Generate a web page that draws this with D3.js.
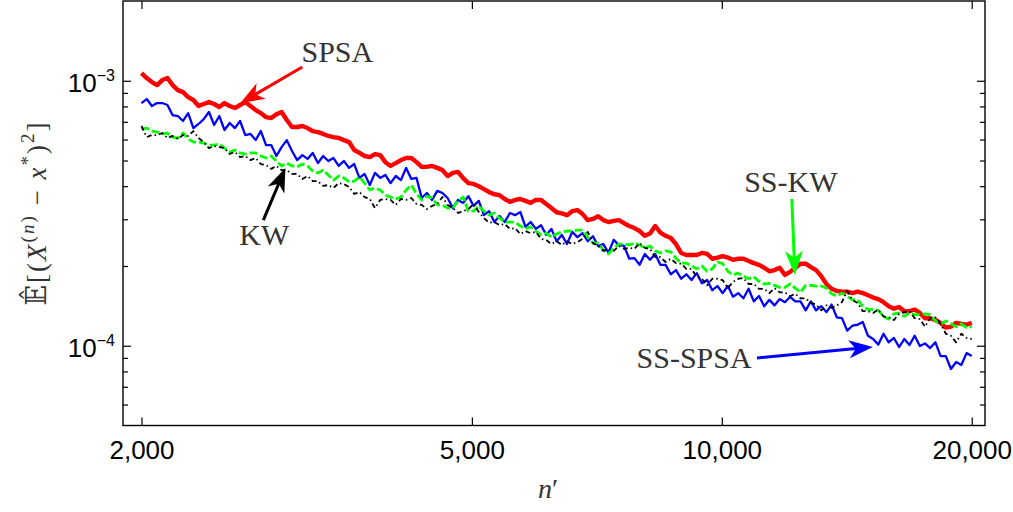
<!DOCTYPE html>
<html>
<head>
<meta charset="utf-8">
<script src="https://cdn.jsdelivr.net/npm/d3@7"></script>
<style>
  body { margin: 0; background: #fff; }
  svg { display: block; }
</style>
</head>
<body>
<svg id="chart" width="1013" height="512"></svg>
<script>
// Mean squared error estimates vs. iteration count n', log-log.
// Series values are in units of 1e-4.
const unit = 1e-4;

// n' sampling grid: 161 log-spaced iterations between 2,000 and 20,000
const nStart = 2000, nEnd = 20000, sampleCount = 161;
const nPrime = d3.range(sampleCount).map(i => nStart * Math.pow(nEnd / nStart, i / (sampleCount - 1)));

const xTicks = [2000, 5000, 10000, 20000];
const yMajorTicks = [1e-4, 1e-3];
const yMinorTicks = [6e-5, 7e-5, 8e-5, 9e-5, 2e-4, 3e-4, 4e-4, 5e-4, 6e-4, 7e-4, 8e-4, 9e-4];

const spsa = [
  10.69,10.24,9.89,9.63,10.06,10.24,9.63,9.22,9.06,8.68,
  8.46,8.03,8.17,8.31,8.17,7.96,8.24,8.03,7.89,8.10,
  8.31,8.03,7.75,7.55,7.29,7.23,7.48,7.62,7.11,6.69,
  6.69,6.75,6.63,6.46,6.40,6.30,6.19,6.13,6.08,5.97,
  5.87,5.48,5.34,5.20,5.15,5.29,5.24,4.93,4.77,4.89,
  5.02,5.11,5.11,4.93,4.73,4.73,4.77,4.69,4.60,4.37,
  4.49,4.53,4.29,4.11,4.08,4.00,3.90,3.80,3.73,3.70,
  3.58,3.49,3.55,3.58,3.52,3.46,3.55,3.55,3.43,3.31,
  3.19,3.16,3.11,3.22,3.25,3.14,2.98,3.01,3.08,2.98,
  2.93,2.96,2.98,2.90,2.83,2.78,2.71,2.60,2.65,2.83,
  2.67,2.60,2.55,2.42,2.24,2.20,2.20,2.20,2.24,2.22,
  2.13,2.15,2.18,2.15,2.11,2.13,2.13,2.09,2.05,2.02,
  1.97,1.91,1.93,1.97,1.85,1.90,1.97,2.04,2.04,1.98,
  1.93,1.83,1.71,1.64,1.61,1.60,1.60,1.58,1.60,1.58,
  1.55,1.52,1.50,1.46,1.41,1.38,1.40,1.35,1.35,1.37,
  1.33,1.27,1.27,1.25,1.22,1.17,1.18,1.22,1.21,1.20,
  1.22
];

const ssSpsa = [
  8.24,8.53,8.03,8.24,8.24,8.10,7.42,7.36,7.05,7.55,
  6.63,6.87,7.17,7.62,6.81,7.36,6.52,6.93,6.63,7.05,
  6.24,6.30,5.97,6.46,5.72,5.72,5.20,5.62,5.97,5.43,
  5.02,5.24,5.07,5.34,4.89,5.20,4.98,5.11,4.77,4.98,
  4.69,4.85,4.30,4.45,4.04,4.49,4.30,4.41,4.11,4.37,
  4.22,4.69,4.26,4.30,3.61,3.77,3.55,3.84,3.77,3.61,
  3.31,3.55,3.46,3.67,3.37,3.52,3.11,3.22,2.93,3.09,
  2.93,3.17,3.11,3.20,2.81,2.93,2.76,2.85,2.62,2.76,
  2.48,2.62,2.42,2.69,2.57,2.66,2.48,2.59,2.38,2.42,
  2.24,2.51,2.40,2.38,2.13,2.14,2.02,2.22,2.11,2.22,
  2.02,2.02,1.86,1.93,1.79,1.86,1.77,1.88,1.72,1.77,
  1.62,1.68,1.58,1.68,1.53,1.58,1.51,1.64,1.47,1.54,
  1.41,1.49,1.42,1.50,1.46,1.53,1.47,1.47,1.36,1.47,
  1.36,1.41,1.34,1.43,1.28,1.27,1.14,1.19,1.20,1.23,
  1.09,1.06,1.01,1.11,1.03,1.07,0.989,1.06,1.006,1.09,
  0.997,1.02,0.980,1.03,0.914,0.914,0.817,0.868,0.846,0.938,
  0.914
];

const ssKw = [
  6.58,6.63,6.46,6.41,6.30,6.35,6.13,6.08,6.35,6.03,
  5.87,5.87,5.82,5.72,5.72,5.77,5.57,5.39,5.48,5.34,
  5.29,5.34,5.34,5.20,5.11,5.20,4.98,4.77,4.89,4.77,
  4.73,4.85,4.77,4.56,4.49,4.60,4.41,4.22,4.37,4.30,
  4.15,4.18,4.33,4.11,3.87,3.94,3.87,3.70,3.64,3.58,
  3.64,3.87,4.04,3.74,3.55,3.67,3.61,3.40,3.40,3.31,
  3.31,3.52,3.64,3.22,3.22,3.37,3.22,3.11,3.17,3.03,
  2.93,2.93,2.93,2.83,2.76,2.81,2.71,2.62,2.66,2.57,
  2.64,2.69,2.71,2.71,2.73,2.73,2.57,2.44,2.44,2.30,
  2.22,2.34,2.42,2.42,2.40,2.44,2.40,2.34,2.38,2.28,
  2.24,2.28,2.26,2.14,2.05,2.05,2.00,1.95,2.00,1.91,
  1.95,2.07,2.04,1.91,1.85,1.88,1.83,1.79,1.82,1.75,
  1.71,1.72,1.69,1.66,1.66,1.71,1.65,1.59,1.69,1.69,
  1.68,1.68,1.65,1.57,1.54,1.58,1.54,1.49,1.49,1.41,
  1.37,1.37,1.36,1.29,1.26,1.32,1.33,1.29,1.33,1.31,
  1.31,1.32,1.31,1.24,1.21,1.24,1.21,1.18,1.21,1.17,
  1.18
];

const kw = [
  6.75,6.13,6.24,6.24,6.35,6.08,6.19,6.03,6.24,6.19,
  6.46,6.08,5.87,5.57,5.67,5.62,5.57,5.29,5.39,5.15,
  5.20,5.02,5.11,4.85,4.81,4.65,4.77,4.60,4.60,4.45,
  4.45,4.26,4.37,4.18,4.18,4.01,4.04,3.94,4.11,4.08,
  3.97,3.74,3.80,3.64,3.58,3.31,3.55,3.58,3.55,3.40,
  3.58,3.55,3.61,3.43,3.40,3.28,3.37,3.43,3.64,3.40,
  3.31,3.17,3.22,3.28,3.43,3.20,3.03,2.91,2.93,2.85,
  2.88,2.76,2.78,2.64,2.71,2.66,2.69,2.53,2.51,2.42,
  2.48,2.40,2.48,2.42,2.46,2.53,2.69,2.44,2.38,2.28,
  2.32,2.28,2.38,2.32,2.34,2.32,2.44,2.34,2.32,2.16,
  2.16,2.07,2.13,2.05,2.04,1.95,1.95,1.82,1.79,1.69,
  1.79,1.79,1.77,1.65,1.74,1.79,1.80,1.71,1.71,1.64,
  1.64,1.58,1.65,1.59,1.59,1.54,1.57,1.51,1.51,1.45,
  1.43,1.36,1.42,1.39,1.42,1.46,1.61,1.49,1.45,1.35,
  1.35,1.33,1.37,1.29,1.28,1.25,1.32,1.34,1.35,1.27,
  1.26,1.18,1.27,1.28,1.21,1.11,1.09,1.03,1.11,1.07,
  1.06
];

const seriesStyles = [
  { key: "SPSA",    values: spsa,   color: "#ff0000", width: 4.4, dash: null },
  { key: "SS-SPSA", values: ssSpsa, color: "#0000ff", width: 2.3, dash: null },
  { key: "SS-KW",   values: ssKw,   color: "#00ff00", width: 2.8, dash: "8,3" },
  { key: "KW",      values: kw,     color: "#000000", width: 1.8, dash: "5,3,1.5,3" }
];

// Callouts: text anchor, arrow tail and arrow tip in (n', value) units
const callouts = [
  { label: "SPSA",    color: "#ff0000", text: [3443, 11.76], tail: [3124, 11.27], tip: [2631, 8.24] },
  { label: "KW",      color: "#000000", text: [2812, 2.40],  tail: [2804, 2.98],  tip: [2981, 4.69] },
  { label: "SS-KW",   color: "#00ff00", text: [12110, 3.80], tail: [12144, 3.58], tip: [12248, 1.85] },
  { label: "SS-SPSA", color: "#0000ff", text: [9260, 0.824], tail: [11024, 0.899], tip: [15204, 0.989] }
];

const svg = d3.select("#chart");
const plotLeft = 123, plotRight = 985, plotTop = 1, plotBottom = 425.5;

const x = d3.scaleLog().domain([1900, 20750]).range([plotLeft, plotRight]);
const y = d3.scaleLog().domain([5e-5, 2e-3]).range([plotBottom, plotTop]);

const sansFont = "'Liberation Sans', Arial, Helvetica, sans-serif";
const serifFont = "'Liberation Serif', 'Times New Roman', 'DejaVu Serif', serif";

// plot area clip
svg.append("defs").append("clipPath").attr("id", "plotClip")
  .append("rect").attr("x", plotLeft).attr("y", plotTop)
  .attr("width", plotRight - plotLeft).attr("height", plotBottom - plotTop);

// series
const line = d3.line()
  .x((d, i) => x(nPrime[i]))
  .y(d => y(d * unit));

const plot = svg.append("g").attr("clip-path", "url(#plotClip)");
seriesStyles.forEach(s => {
  plot.append("path")
    .datum(s.values)
    .attr("fill", "none")
    .attr("stroke", s.color)
    .attr("stroke-width", s.width)
    .attr("stroke-linejoin", "round")
    .attr("stroke-dasharray", s.dash)
    .attr("d", line);
});

// axes: inward ticks on all four sides
function styleAxis(g) {
  g.select(".domain").remove();
  g.selectAll(".tick line").attr("stroke", "#000").attr("stroke-width", 1.2);
}

svg.append("g")
  .attr("transform", `translate(0,${plotBottom})`)
  .call(d3.axisBottom(x).tickValues(xTicks).tickSizeInner(-8).tickSizeOuter(0)
    .tickPadding(15).tickFormat(d3.format(",")))
  .call(styleAxis)
  .call(g => g.selectAll("text").attr("fill", "#000")
    .style("font-family", sansFont).style("font-size", "26px"));

svg.append("g")
  .attr("transform", `translate(0,${plotTop})`)
  .call(d3.axisTop(x).tickValues(xTicks).tickSizeInner(-8).tickSizeOuter(0).tickFormat(""))
  .call(styleAxis);

[[plotLeft, d3.axisLeft], [plotRight, d3.axisRight]].forEach(([pos, axisFn]) => {
  svg.append("g")
    .attr("transform", `translate(${pos},0)`)
    .call(axisFn(y).tickValues(yMajorTicks).tickSizeInner(-8).tickSizeOuter(0).tickFormat(""))
    .call(styleAxis);
  svg.append("g")
    .attr("transform", `translate(${pos},0)`)
    .call(axisFn(y).tickValues(yMinorTicks).tickSizeInner(-5).tickSizeOuter(0).tickFormat(""))
    .call(styleAxis);
});

// y tick labels as powers of ten
yMajorTicks.forEach(v => {
  const exp = Math.round(Math.log10(v));
  const t = svg.append("text")
    .attr("x", plotLeft - 8)
    .attr("y", y(v) + 11)
    .attr("text-anchor", "end")
    .attr("fill", "#000")
    .style("font-family", sansFont)
    .style("font-size", "26px");
  t.append("tspan").text("10");
  t.append("tspan").attr("dy", -11).style("font-size", "16px").text("\u2212" + Math.abs(exp));
});

// frame
svg.append("rect")
  .attr("x", plotLeft).attr("y", plotTop)
  .attr("width", plotRight - plotLeft).attr("height", plotBottom - plotTop)
  .attr("fill", "none").attr("stroke", "#000").attr("stroke-width", 1.4);

// x axis title
const xt = svg.append("text")
  .attr("x", 548).attr("y", 498)
  .attr("text-anchor", "middle")
  .attr("fill", "#333")
  .style("font-family", serifFont)
  .style("font-size", "28px");
xt.append("tspan").style("font-style", "italic").text("n");
xt.append("tspan").text("\u2032");

// y axis title
const yt = svg.append("text")
  .attr("transform", "translate(46,213) rotate(-90)")
  .attr("text-anchor", "middle")
  .attr("fill", "#333")
  .style("font-family", serifFont)
  .style("font-size", "27px")
  .style("letter-spacing", "2px");
yt.append("tspan").style("font-family", "'DejaVu Serif', 'DejaVu Sans', serif").text("\u{1D53C}\u0302");
yt.append("tspan").text("[(");
yt.append("tspan").style("font-style", "italic").text("X");
yt.append("tspan").attr("dy", -12).style("font-size", "19px").text("(");
yt.append("tspan").style("font-size", "19px").style("font-style", "italic").text("n");
yt.append("tspan").style("font-size", "19px").text(")");
yt.append("tspan").attr("dy", 12).text(" \u2212 ");
yt.append("tspan").style("font-style", "italic").text("x");
yt.append("tspan").attr("dy", -12).style("font-size", "19px").text("*");
yt.append("tspan").attr("dy", 12).text(")");
yt.append("tspan").attr("dy", -12).style("font-size", "19px").text("2");
yt.append("tspan").attr("dy", 12).text("]");

// callouts with arrows
const notes = svg.append("g");
callouts.forEach(c => {
  const tx = x(c.tail[0]), ty = y(c.tail[1] * unit);
  const px = x(c.tip[0]), py = y(c.tip[1] * unit);
  const dx = px - tx, dy = py - ty, len = Math.hypot(dx, dy);
  const ux = dx / len, uy = dy / len, nx = -uy, ny = ux;
  const headLen = 24, half = 9;
  const bx = px - ux * headLen, by = py - uy * headLen;
  notes.append("line")
    .attr("x1", tx).attr("y1", ty)
    .attr("x2", px - ux * headLen * 0.7).attr("y2", py - uy * headLen * 0.7)
    .attr("stroke", c.color).attr("stroke-width", 3);
  notes.append("path")
    .attr("d", `M${px},${py}L${bx + nx * half},${by + ny * half}L${px - ux * headLen * 0.72},${py - uy * headLen * 0.72}L${bx - nx * half},${by - ny * half}Z`)
    .attr("fill", c.color);
  notes.append("text")
    .attr("x", x(c.text[0])).attr("y", y(c.text[1] * unit))
    .attr("text-anchor", "middle")
    .attr("fill", "#333")
    .style("font-family", serifFont)
    .style("font-size", "30px")
    .text(c.label);
});
</script>
</body>
</html>
